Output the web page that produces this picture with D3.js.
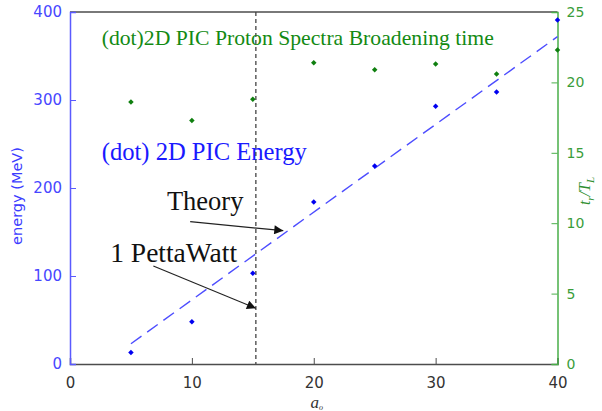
<!DOCTYPE html>
<html>
<head>
<meta charset="utf-8">
<script src="https://cdn.jsdelivr.net/npm/d3@7"></script>
<style>
  body { margin: 0; background: #fff; }
  svg { display: block; }
</style>
</head>
<body>
<svg id="chart" width="602" height="411"></svg>
<script>
// a0 values used for both series
const a0 = [5, 10, 15, 20, 25, 30, 35, 40];
// 2D PIC energy (MeV), left axis
const energy = [13, 48, 103, 184, 225, 293, 309, 391];
// 2D PIC proton spectra broadening time t_r/T_L, right axis
const broadening = [18.6, 17.3, 18.8, 21.4, 20.9, 21.3, 20.6, 22.3];
// theory line (two end points)
const theoryA = [5, 40];
const theoryE = [23, 372];
// 1 PW marker
const petaWattA = 15.25;

const xTicks = [0, 10, 20, 30, 40];
const yLeftTicks = [0, 100, 200, 300, 400];
const yRightTicks = [0, 5, 10, 15, 20, 25];

// annotation texts and arrows in data units (a0, MeV)
const notes = [
  { text: "(dot)2D PIC Proton Spectra Broadening time", a: 2.6, e: 362.5, color: "#138a13", size: 21.7 },
  { text: "(dot) 2D PIC Energy", a: 2.6, e: 231.5, color: "#1a1aff", size: 24.6 },
  { text: "Theory", a: 7.95, e: 175, color: "#111", size: 26.5 },
  { text: "1 PettaWatt", a: 3.3, e: 116.3, color: "#111", size: 27.5 }
];
const arrows = [
  { a1: 9.86, e1: 161.7, a2: 17.5, e2: 151.5 },
  { a1: 6.84, e1: 111.4, a2: 15.25, e2: 63.3 }
];

const svg = d3.select("#chart");
const margin = { left: 70, right: 44.5, top: 12, bottom: 47 };
const W = 602, H = 411;

const x = d3.scaleLinear().domain([0, 40]).range([margin.left, W - margin.right]);
const yL = d3.scaleLinear().domain([0, 400]).range([H - margin.bottom, margin.top]);
const yR = d3.scaleLinear().domain([0, 25]).range([H - margin.bottom, margin.top]);

const gray = "#4d4d4d";
const blueAxis = "#5a5aff";
const greenAxis = "#4aae4a";

svg.append("defs").append("marker")
  .attr("id", "arrow")
  .attr("viewBox", "0 0 10 10")
  .attr("refX", 10).attr("refY", 5)
  .attr("markerWidth", 10).attr("markerHeight", 9)
  .attr("markerUnits", "userSpaceOnUse")
  .attr("orient", "auto")
  .append("path").attr("d", "M0,0 L10,5 L0,10 Z").attr("fill", "#111");

// top border
svg.append("line")
  .attr("x1", x(0)).attr("x2", x(40))
  .attr("y1", yL(400)).attr("y2", yL(400))
  .attr("stroke", gray).attr("stroke-width", 1.5);

// bottom axis
const xAxis = svg.append("g")
  .attr("transform", `translate(0,${yL(0)})`)
  .call(d3.axisBottom(x).tickValues(xTicks).tickSize(-6).tickPadding(13));
xAxis.select(".domain").attr("stroke", gray).attr("stroke-width", 1.5);
xAxis.selectAll(".tick line").attr("stroke", gray);
xAxis.selectAll("text").attr("fill", "#333")
  .style("font-family", "DejaVu Sans").style("font-size", "15px");

// left axis
const yAxisL = svg.append("g")
  .attr("transform", `translate(${x(0)},0)`)
  .call(d3.axisLeft(yL).tickValues(yLeftTicks).tickSize(-6).tickPadding(8));
yAxisL.select(".domain").attr("stroke", blueAxis).attr("stroke-width", 1.5);
yAxisL.selectAll(".tick line").attr("stroke", blueAxis);
yAxisL.selectAll("text").attr("fill", "#4747ff")
  .style("font-family", "DejaVu Sans").style("font-size", "15px");

// right axis
const yAxisR = svg.append("g")
  .attr("transform", `translate(${x(40)},0)`)
  .call(d3.axisRight(yR).tickValues(yRightTicks).tickSize(-6).tickPadding(9));
yAxisR.select(".domain").attr("stroke", greenAxis).attr("stroke-width", 1.5);
yAxisR.selectAll(".tick line").attr("stroke", greenAxis);
yAxisR.selectAll("text").attr("fill", "#3a9d3a")
  .style("font-family", "DejaVu Sans").style("font-size", "14px");

// axis titles
svg.append("text")
  .attr("transform", `translate(22,${(yL(400) + yL(0)) / 2 + 8}) rotate(-90)`)
  .attr("text-anchor", "middle")
  .attr("fill", "#3c3cff")
  .style("font-family", "DejaVu Sans").style("font-size", "14.5px")
  .text("energy (MeV)");

const rt = svg.append("text")
  .attr("transform", `translate(590,${(yR(25) + yR(0)) / 2 + 3}) rotate(-90)`)
  .attr("text-anchor", "middle")
  .attr("fill", "#2f8f2f")
  .style("font-family", "Liberation Serif").style("font-size", "16px")
  .style("font-style", "italic");
rt.append("tspan").text("t");
rt.append("tspan").attr("dy", 4).style("font-size", "11px").text("r");
rt.append("tspan").attr("dy", -4).text("/T");
rt.append("tspan").attr("dy", 4).style("font-size", "11px").text("L");

const xt = svg.append("text")
  .attr("x", x(20) + 3).attr("y", 408)
  .attr("text-anchor", "middle")
  .attr("fill", "#333")
  .style("font-family", "Liberation Serif").style("font-size", "17px")
  .style("font-style", "italic");
xt.append("tspan").text("a");
xt.append("tspan").attr("dy", 2).style("font-size", "8px").text("o");

// 1 PW vertical dashed line
svg.append("line")
  .attr("x1", x(petaWattA)).attr("x2", x(petaWattA))
  .attr("y1", yL(400)).attr("y2", yL(0))
  .attr("stroke", "#444").attr("stroke-width", 1.3)
  .attr("stroke-dasharray", "4,3");

// theory line
const theory = theoryA.map((a, i) => [a, theoryE[i]]);
svg.append("path")
  .datum(theory)
  .attr("fill", "none")
  .attr("stroke", "#4d4dff")
  .attr("stroke-width", 1.4)
  .attr("stroke-dasharray", "13,7")
  .attr("d", d3.line().x(d => x(d[0])).y(d => yL(d[1])));

const diamond = d3.symbol().type(d3.symbolSquare).size(15);

// broadening time dots
svg.append("g").selectAll("path")
  .data(a0.map((a, i) => [a, broadening[i]]))
  .join("path")
  .attr("d", diamond)
  .attr("transform", d => `translate(${x(d[0])},${yR(d[1])}) rotate(45)`)
  .attr("fill", "#0f7f0f");

// energy dots
svg.append("g").selectAll("path")
  .data(a0.map((a, i) => [a, energy[i]]))
  .join("path")
  .attr("d", diamond)
  .attr("transform", d => `translate(${x(d[0])},${yL(d[1])}) rotate(45)`)
  .attr("fill", "#0000f0");

// annotations
svg.append("g").selectAll("text")
  .data(notes)
  .join("text")
  .attr("x", d => x(d.a)).attr("y", d => yL(d.e))
  .attr("fill", d => d.color)
  .style("font-family", "Liberation Serif")
  .style("font-size", d => d.size + "px")
  .text(d => d.text);

svg.append("g").selectAll("line")
  .data(arrows)
  .join("line")
  .attr("x1", d => x(d.a1)).attr("y1", d => yL(d.e1))
  .attr("x2", d => x(d.a2)).attr("y2", d => yL(d.e2))
  .attr("stroke", "#222").attr("stroke-width", 1.2)
  .attr("marker-end", "url(#arrow)");
</script>
</body>
</html>
